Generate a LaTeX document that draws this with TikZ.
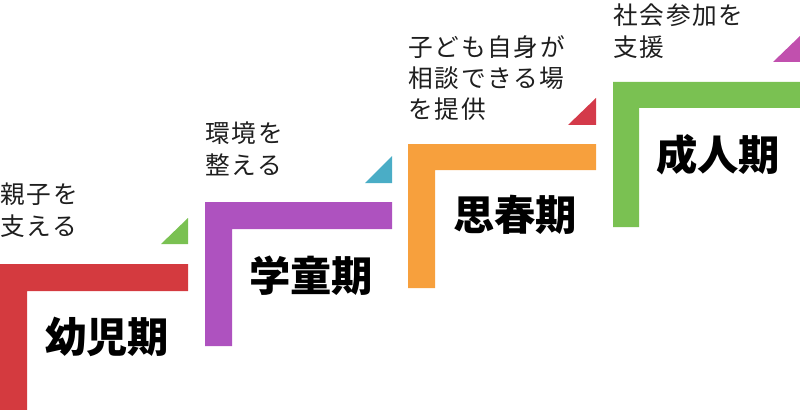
\documentclass[tikz,border=0pt]{standalone}
\usepackage{fontspec}
\newfontfamily\jpfont[LetterSpace=7]{Noto Sans CJK JP}
\newfontfamily\jpboldfont{Noto Sans CJK JP}[BoldFont={* Black}]
\newcommand\notefont{\jpfont\fontsize{18.5pt}{23.5pt}\selectfont}
\newcommand\phasefont{\jpboldfont\bfseries\fontsize{31pt}{31pt}\selectfont}

\definecolor{stepRed}{RGB}{212,58,63}
\definecolor{stepPurple}{RGB}{174,82,191}
\definecolor{stepOrange}{RGB}{247,160,61}
\definecolor{stepGreen}{RGB}{122,193,82}
\definecolor{tipBlue}{RGB}{74,173,198}
\definecolor{tipRed}{RGB}{212,58,74}
\definecolor{tipMagenta}{RGB}{193,80,174}
\definecolor{inkGray}{RGB}{30,30,30}

\begin{document}
\begin{tikzpicture}[x=0.75pt,y=0.75pt,yscale=-1,xscale=1,
  note/.style={anchor=north west,inner sep=0pt,align=left,font=\notefont,text=inkGray},
  phase/.style={inner sep=0pt,font=\phasefont,text=black}]
\useasboundingbox (0,0) rectangle (800,410);

%Shape: L step [infancy]
\fill [stepRed] (0,264) -- (188,264) -- (188,291) -- (27,291) -- (27,410) -- (0,410) -- cycle ;
%Shape: Triangle
\fill [stepGreen] (161,244) -- (188,244) -- (188,218) -- cycle ;

%Shape: L step [school age]
\fill [stepPurple] (205,202) -- (392,202) -- (392,229) -- (232,229) -- (232,346) -- (205,346) -- cycle ;
%Shape: Triangle
\fill [tipBlue] (365,183) -- (392,183) -- (392,156) -- cycle ;

%Shape: L step [adolescence]
\fill [stepOrange] (408,144) -- (596,144) -- (596,170) -- (435,170) -- (435,288) -- (408,288) -- cycle ;
%Shape: Triangle
\fill [tipRed] (568,125) -- (596,125) -- (596,98) -- cycle ;

%Shape: L step [adulthood]
\fill [stepGreen] (613,82) -- (800,82) -- (800,108) -- (639,108) -- (639,227) -- (613,227) -- cycle ;
%Shape: Triangle
\fill [tipMagenta] (773,62) -- (800,62) -- (800,36) -- cycle ;

% Text Node
\draw (0,183) node [note] (noteInfant) {親子を\\支える};
% Text Node
\draw (205,122) node [note] (noteSchool) {環境を\\整える};
% Text Node
\draw (408,35) node [note] (noteTeen) {子ども自身が\\相談できる場\\を提供};
% Text Node
\draw (613,4) node [note] (noteAdult) {社会参加を\\支援};

% Text Node
\draw (107,337) node [phase] (lblInfant) {幼児期};
% Text Node
\draw (311,276) node [phase] (lblSchool) {学童期};
% Text Node
\draw (515,215) node [phase] (lblTeen) {思春期};
% Text Node
\draw (718,155) node [phase] (lblAdult) {成人期};

\end{tikzpicture}
\end{document}
